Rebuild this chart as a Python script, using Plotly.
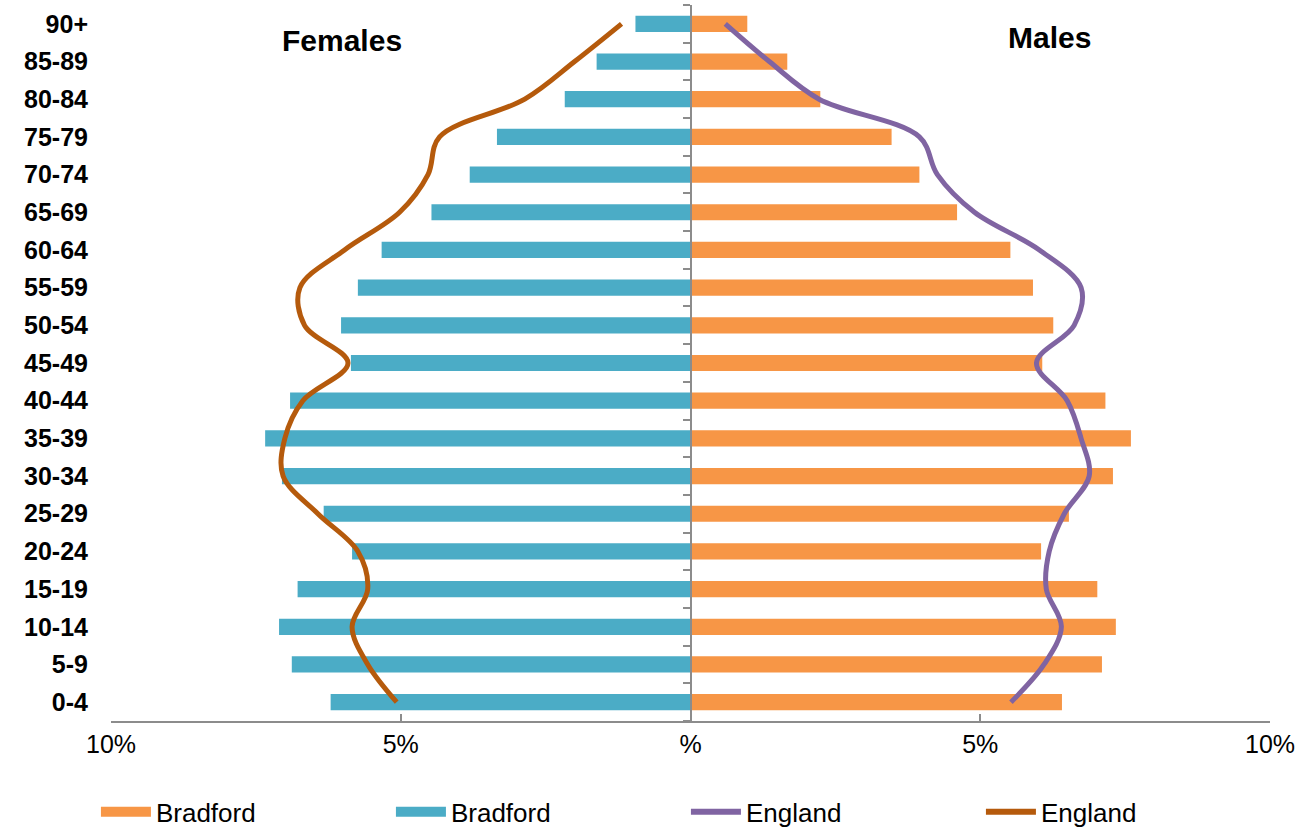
import plotly.graph_objects as go

age_groups = ["0-4", "5-9", "10-14", "15-19", "20-24", "25-29", "30-34", "35-39",
              "40-44", "45-49", "50-54", "55-59", "60-64", "65-69", "70-74",
              "75-79", "80-84", "85-89", "90+"]

bradford_female = [6.21, 6.88, 7.10, 6.78, 5.84, 6.33, 7.05, 7.34, 6.91, 5.86,
                   6.03, 5.74, 5.33, 4.47, 3.81, 3.34, 2.17, 1.62, 0.95]
bradford_male = [6.41, 7.10, 7.34, 7.02, 6.05, 6.53, 7.29, 7.60, 7.16, 6.07,
                 6.26, 5.91, 5.52, 4.60, 3.95, 3.47, 2.24, 1.67, 0.98]
england_female = [5.07, 5.57, 5.84, 5.57, 5.74, 6.43, 7.03, 7.00, 6.69, 5.91,
                  6.66, 6.74, 5.97, 5.02, 4.53, 4.33, 2.86, 2.00, 1.19]
england_male = [5.53, 6.10, 6.40, 6.14, 6.19, 6.45, 6.88, 6.74, 6.50, 5.97,
                6.62, 6.74, 6.02, 4.90, 4.26, 3.95, 2.22, 1.36, 0.60]

x_tickvals = [-10, -5, 0, 5, 10]
x_ticktext = ["10%", "5%", "%", "5%", "10%"]

ORANGE = "#F79646"
BLUE = "#4BACC6"
PURPLE = "#8064A2"
BROWN = "#B55A0C"
FONT = "Liberation Sans, Arial, sans-serif"

fig = go.Figure()
fig.add_trace(go.Bar(y=age_groups, x=bradford_male, orientation="h",
                     marker=dict(color=ORANGE, line=dict(width=0)), name="Bradford",
                     showlegend=False))
fig.add_trace(go.Bar(y=age_groups, x=[-v for v in bradford_female], orientation="h",
                     marker=dict(color=BLUE, line=dict(width=0)), name="Bradford",
                     showlegend=False))
fig.add_trace(go.Scatter(y=age_groups, x=england_male, mode="lines", yaxis="y2",
                         line=dict(color=PURPLE, width=5, shape="spline", smoothing=1.0),
                         name="England", showlegend=False))
fig.add_trace(go.Scatter(y=age_groups, x=[-v for v in england_female], mode="lines", yaxis="y2",
                         line=dict(color=BROWN, width=5, shape="spline", smoothing=1.0),
                         name="England", showlegend=False))

# legend entries (wide swatches for bars, thick lines for England)
for name, color, width in [("Bradford", ORANGE, 17), ("Bradford", BLUE, 17),
                           ("England", PURPLE, 6), ("England", BROWN, 6)]:
    fig.add_trace(go.Scatter(x=[None], y=[None], mode="lines", name=name,
                             line=dict(color=color, width=width), showlegend=True))

fig.update_layout(
    width=1299, height=832,
    margin=dict(l=111, r=29, t=5, b=111, autoexpand=False),
    paper_bgcolor="white", plot_bgcolor="white",
    barmode="relative", bargap=0.57,
    font=dict(family=FONT, size=22, color="#000000"),
    showlegend=True,
    legend=dict(orientation="h", x=-0.013, xanchor="left", y=-0.127, yanchor="middle",
                entrywidth=230, entrywidthmode="pixels", itemwidth=50,
                font=dict(family=FONT, size=26, color="#000000"),
                traceorder="normal", bgcolor="rgba(0,0,0,0)"),
    xaxis=dict(range=[-10, 10], tickvals=x_tickvals, ticktext=x_ticktext,
               showgrid=False, zeroline=False, showline=True, linecolor="#8C8C8C", linewidth=2,
               ticks="inside", ticklen=7, tickwidth=2, tickcolor="#8C8C8C",
               tickfont=dict(family=FONT, size=25, color="#000000"), fixedrange=True,
               automargin=False),
    yaxis=dict(type="category", categoryorder="array", categoryarray=age_groups,
               range=[-0.5, len(age_groups) - 0.5],
               showgrid=False, zeroline=False, showline=False, ticks="",
               tickfont=dict(family=FONT, size=25, color="#000000", weight="bold"),
               ticklabelstandoff=22, automargin=False),
    yaxis2=dict(type="category", categoryorder="array", categoryarray=age_groups,
                range=[-0.5, len(age_groups) - 0.5], overlaying="y", anchor="free",
                position=0.5, side="left", showticklabels=False,
                showgrid=False, zeroline=False, showline=True, linecolor="#8C8C8C", linewidth=2,
                ticks="outside", tickson="boundaries", ticklen=7, tickwidth=2,
                tickcolor="#8C8C8C", automargin=False),
    annotations=[
        dict(text="<b>Females</b>", x=0.199, y=0.951, xref="paper", yref="paper",
             xanchor="center", yanchor="middle",
             showarrow=False, font=dict(family=FONT, size=30, color="#000000")),
        dict(text="<b>Males</b>", x=0.81, y=0.954, xref="paper", yref="paper",
             xanchor="center", yanchor="middle",
             showarrow=False, font=dict(family=FONT, size=30, color="#000000")),
    ],
)

fig.write_html("out.html", config={"displayModeBar": False},
               post_script="document.body.style.margin='0';")
